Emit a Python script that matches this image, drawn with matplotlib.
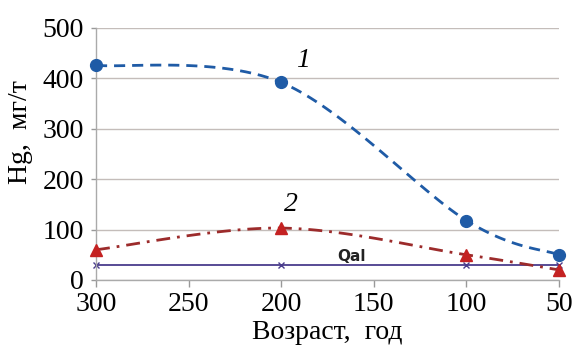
import numpy as np
import matplotlib
matplotlib.use("Agg")
import matplotlib.pyplot as plt

# Data
age = [300, 200, 100, 50]
hg_curve1 = [426, 392, 118, 50]
hg_curve2 = [60, 103, 50, 20]
hg_qal = [30, 30, 30, 30]
x_ticks = [300, 250, 200, 150, 100, 50]
y_ticks = [0, 100, 200, 300, 400, 500]


def smooth(xs, ys, n=40):
    """Bezier smoothing through the points (spreadsheet-style smoothed line)."""
    pts = np.column_stack([xs, ys]).astype(float)
    out = []
    m = len(pts)
    for i in range(m - 1):
        p0 = pts[i - 1] if i > 0 else pts[i]
        p1, p2 = pts[i], pts[i + 1]
        p3 = pts[i + 2] if i + 2 < m else pts[i + 1]
        c1 = p1 + (p2 - p0) / 6.0
        c2 = p2 - (p3 - p1) / 6.0
        t = np.linspace(0, 1, n)[:, None]
        seg = ((1 - t) ** 3) * p1 + 3 * ((1 - t) ** 2) * t * c1 + 3 * (1 - t) * t ** 2 * c2 + t ** 3 * p2
        out.append(seg if i == 0 else seg[1:])
    s = np.vstack(out)
    return s[:, 0], s[:, 1]


plt.rcParams["font.family"] = ["Liberation Serif", "DejaVu Serif"]

fig = plt.figure(figsize=(5.76, 3.46), dpi=100)
ax = fig.add_axes([0.1667, 0.1908, 0.8038, 0.7283])

blue = "#1f5ba6"
red_line = "#9c2b2b"
red_mark = "#c42222"
navy = "#4a3d8c"

sx, sy = smooth(age, hg_curve1)
ax.plot(sx, sy, color=blue, lw=2.0, ls=(0, (4, 2.5)), zorder=3)
ax.plot(age, hg_curve1, ls="none", marker="o", ms=8.5, color=blue, zorder=4, clip_on=False)

sx, sy = smooth(age, hg_curve2)
ax.plot(sx, sy, color=red_line, lw=2.0, ls=(0, (5, 2.5, 1, 2.5)), zorder=3)
ax.plot(age, hg_curve2, ls="none", marker="^", ms=8.5, color=red_mark, zorder=4, clip_on=False)

ax.plot(age, hg_qal, color=navy, lw=1.3, marker="x", ms=4, mew=1.0, zorder=2, clip_on=False)

ax.text(188, 436, "1", fontsize=20, style="italic", ha="center", va="center")
ax.text(195, 149, "2", fontsize=20, style="italic", ha="center", va="center")
ax.text(162, 47, "Qal", fontsize=11, fontweight="semibold", family=["DejaVu Sans"],
        ha="center", va="center", color="#222222")

ax.set_xlim(300, 50)
ax.set_ylim(0, 500)
ax.set_xticks(x_ticks)
ax.set_yticks(y_ticks)
ax.tick_params(axis="both", labelsize=20, colors="#999999", labelcolor="black", width=1)
ax.tick_params(axis="x", length=5, pad=4)
ax.tick_params(axis="y", length=3.6, pad=5)

ax.grid(axis="y", color="#c4bdba", lw=1.0)
ax.set_axisbelow(True)
for side in ("top", "right"):
    ax.spines[side].set_visible(False)
for side in ("left", "bottom"):
    ax.spines[side].set_color("#aaaaaa")
    ax.spines[side].set_linewidth(1.0)

ax.set_xlabel("Возраст,  год", fontsize=20, labelpad=2)
ax.set_ylabel("Hg,  мг/т", fontsize=20)
ax.yaxis.set_label_coords(-0.136, 0.587)

fig.savefig("out.png", dpi=100)
